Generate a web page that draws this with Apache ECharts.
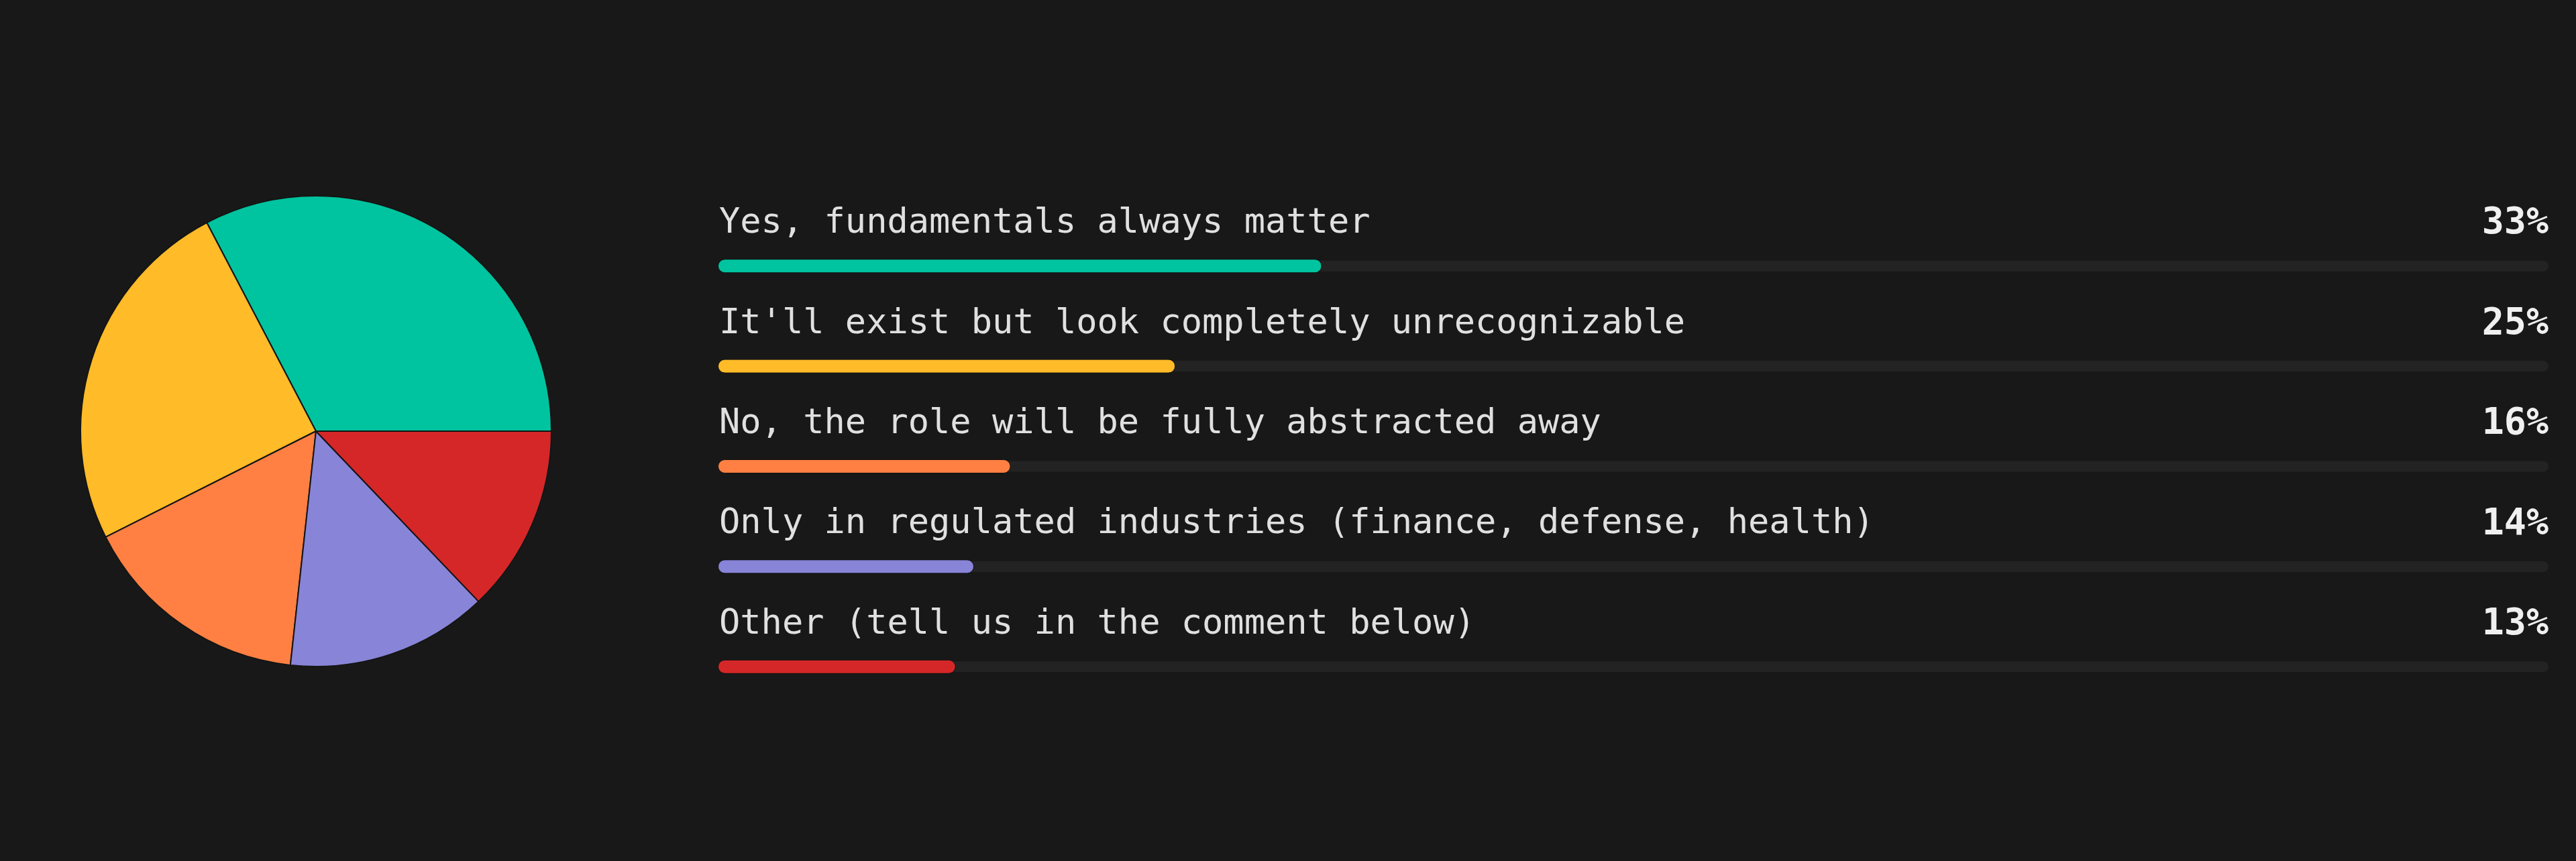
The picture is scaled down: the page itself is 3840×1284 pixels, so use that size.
<!DOCTYPE html>
<html>
<head>
<meta charset="utf-8">
<script src="https://cdn.jsdelivr.net/npm/echarts@6/dist/echarts.min.js"></script>
<style>
  html, body { margin: 0; padding: 0; background: #181818; }
  #main { width: 3840px; height: 1284px; }
</style>
</head>
<body>
<div id="main"></div>
<script>
// poll answers, top to bottom
var answers = [
    'Yes, fundamentals always matter',
    "It'll exist but look completely unrecognizable",
    'No, the role will be fully abstracted away',
    'Only in regulated industries (finance, defense, health)',
    'Other (tell us in the comment below)'
];
var percents = [33, 25, 16, 14, 13];
var colors = ['#00C49F', '#FFBB28', '#FF8042', '#8884D8', '#D62728'];
var trackMax = 100;

var mono = '"DejaVu Sans Mono", "Liberation Mono", monospace';

var myChart = echarts.init(document.getElementById('main'));

var pieData = [];
var fillData = [];
for (var i = 0; i < answers.length; i++) {
    pieData.push({ name: answers[i], value: percents[i], itemStyle: { color: colors[i] } });
    fillData.push({ value: percents[i], itemStyle: { color: colors[i] } });
}

myChart.setOption({
    backgroundColor: '#181818',
    animation: false,
    grid: { left: 1070, right: 41, top: 322, bottom: 215 },
    xAxis: { type: 'value', min: 0, max: trackMax, show: false },
    yAxis: [
        { type: 'category', inverse: true, data: answers, show: false },
        { type: 'category', inverse: true, data: answers, show: false }
    ],
    series: [
        {
            // answer pie
            type: 'pie',
            center: [471, 643],
            radius: 351,
            startAngle: 0,
            clockwise: false,
            label: { show: false },
            labelLine: { show: false },
            itemStyle: { borderColor: '#151515', borderWidth: 2 },
            data: pieData
        },
        {
            // grey track + answer text
            type: 'bar',
            yAxisIndex: 0,
            barWidth: 16,
            barGap: '-100%',
            silent: true,
            data: answers.map(function () { return trackMax; }),
            itemStyle: { color: '#232323', borderRadius: 8 },
            label: {
                show: true,
                position: [2, -29],
                align: 'left',
                verticalAlign: 'bottom',
                fontFamily: mono,
                fontSize: 52,
                lineHeight: 52,
                color: '#e0e0e0',
                formatter: function (p) { return p.name; }
            }
        },
        {
            // invisible holder for the percent text
            type: 'bar',
            yAxisIndex: 0,
            barWidth: 16,
            barGap: '-100%',
            silent: true,
            data: answers.map(function () { return trackMax; }),
            itemStyle: { color: 'rgba(0,0,0,0)' },
            label: {
                show: true,
                position: ['100%', -27],
                align: 'right',
                verticalAlign: 'bottom',
                fontFamily: mono,
                fontWeight: 'bold',
                fontSize: 55,
                lineHeight: 55,
                color: '#f0f0f0',
                formatter: function (p) { return percents[p.dataIndex] + '%'; }
            }
        },
        {
            // coloured fill
            type: 'bar',
            yAxisIndex: 1,
            barWidth: 21,
            data: fillData,
            itemStyle: { borderRadius: 10, borderColor: '#101010', borderWidth: 1 }
        }
    ]
});
</script>
</body>
</html>
